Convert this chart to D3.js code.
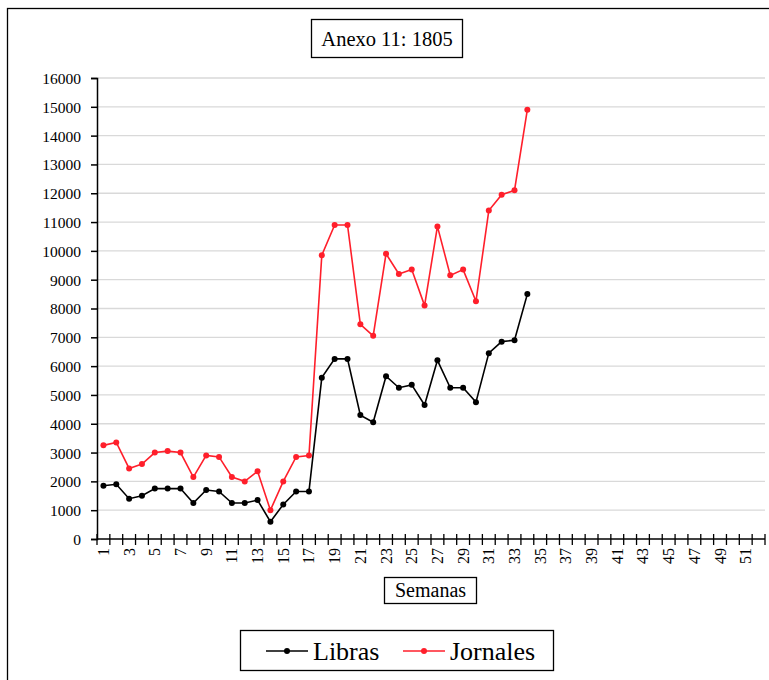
<!DOCTYPE html>
<html>
<head>
<meta charset="utf-8">
<script src="https://cdn.jsdelivr.net/npm/d3@7"></script>
<style>
  body { margin: 0; background: #fff; }
  text { font-family: "Liberation Serif", "Times New Roman", serif; fill: #000; }
</style>
</head>
<body>
<script>
// semanas 1..52, data only for the first 34
var semanas = d3.range(1, 53);
var libras = [1850, 1900, 1400, 1500, 1750, 1750, 1750, 1250, 1700, 1650,
              1250, 1250, 1350, 600, 1200, 1650, 1650, 5600, 6250, 6250,
              4300, 4050, 5650, 5250, 5350, 4650, 6200, 5250, 5250, 4750,
              6450, 6850, 6900, 8500];
var jornales = [3250, 3350, 2450, 2600, 3000, 3050, 3000, 2150, 2900, 2850,
                2150, 2000, 2350, 1000, 2000, 2850, 2900, 9850, 10900, 10900,
                7450, 7050, 9900, 9200, 9350, 8100, 10850, 9150, 9350, 8250,
                11400, 11950, 12100, 14900];
var yTicks = d3.range(0, 16001, 1000);

var w = 769, h = 680;
// plot area edges (window.top is reserved, so use own names)
var plotLeft = 97, plotRight = 765, plotTop = 78, plotBottom = 539;

var svg = d3.select("body").append("svg")
    .attr("width", w)
    .attr("height", h);

// outer frame
svg.append("rect")
    .attr("x", 7.5).attr("y", 8.5)
    .attr("width", 800).attr("height", 700)
    .attr("fill", "none").attr("stroke", "#000").attr("stroke-width", 1.3);

var x = d3.scaleBand().domain(semanas).range([plotLeft, plotRight]);
var y = d3.scaleLinear().domain([0, 16000]).range([plotBottom, plotTop]);

// gridlines
svg.append("g").selectAll("line")
    .data(yTicks.slice(1))
    .enter().append("line")
    .attr("x1", plotLeft).attr("x2", plotRight)
    .attr("y1", function(d) { return y(d); })
    .attr("y2", function(d) { return y(d); })
    .attr("stroke", "#d9d9d9").attr("stroke-width", 1.3);

// y axis
var yAxis = svg.append("g")
    .attr("transform", "translate(" + plotLeft + ",0)")
    .call(d3.axisLeft(y).tickValues(yTicks).tickSize(6).tickPadding(10).tickFormat(d3.format("d")));
yAxis.attr("font-size", 15.5).attr("font-family", "Liberation Serif");
yAxis.select(".domain").attr("stroke", "#000").attr("stroke-width", 1.5);
yAxis.selectAll(".tick line").attr("stroke", "#000").attr("stroke-width", 1.5);
yAxis.selectAll("text").style("font-size", "15.5px").attr("dy", "0.35em");

// x axis: ticks at category boundaries crossing the axis
var bounds = semanas.map(function(d) { return x(d); }).concat([plotRight]);
svg.append("line")
    .attr("x1", plotLeft).attr("x2", plotRight)
    .attr("y1", plotBottom).attr("y2", plotBottom)
    .attr("stroke", "#000").attr("stroke-width", 1.5);
svg.append("g").selectAll("line")
    .data(bounds)
    .enter().append("line")
    .attr("x1", function(d) { return d; }).attr("x2", function(d) { return d; })
    .attr("y1", plotBottom - 5).attr("y2", plotBottom + 6)
    .attr("stroke", "#000").attr("stroke-width", 1.3);

svg.append("g").selectAll("text")
    .data(semanas.filter(function(d) { return d % 2 == 1; }))
    .enter().append("text")
    .attr("transform", function(d) {
        return "translate(" + (x(d) + x.bandwidth() / 2 + 5.5) + "," + (plotBottom + 9) + ") rotate(-90)";
    })
    .attr("text-anchor", "end")
    .style("font-size", "16px")
    .text(function(d) { return d; });

// lines
var line = d3.line()
    .x(function(d, i) { return x(semanas[i]) + x.bandwidth() / 2; })
    .y(function(d) { return y(d); });

function drawSeries(data, color) {
    svg.append("path")
        .datum(data)
        .attr("d", line)
        .attr("fill", "none")
        .attr("stroke", color)
        .attr("stroke-width", 1.6);
    svg.append("g").selectAll("circle")
        .data(data)
        .enter().append("circle")
        .attr("cx", function(d, i) { return x(semanas[i]) + x.bandwidth() / 2; })
        .attr("cy", function(d) { return y(d); })
        .attr("r", 3)
        .attr("fill", color);
}
drawSeries(jornales, "#ff1f2b");
drawSeries(libras, "#000");

// title box
svg.append("rect")
    .attr("x", 311.5).attr("y", 19.5).attr("width", 151).attr("height", 38)
    .attr("fill", "#fff").attr("stroke", "#000").attr("stroke-width", 1.3);
svg.append("text")
    .attr("x", 387).attr("y", 46)
    .attr("text-anchor", "middle")
    .style("font-size", "20.5px")
    .text("Anexo 11: 1805");

// axis title box
svg.append("rect")
    .attr("x", 384.5).attr("y", 577.5).attr("width", 92).attr("height", 26)
    .attr("fill", "#fff").attr("stroke", "#000").attr("stroke-width", 1.3);
svg.append("text")
    .attr("x", 430.5).attr("y", 597)
    .attr("text-anchor", "middle")
    .style("font-size", "20px")
    .text("Semanas");

// legend
var leg = svg.append("g");
leg.append("rect")
    .attr("x", 240.5).attr("y", 630.5).attr("width", 313).attr("height", 40)
    .attr("fill", "#fff").attr("stroke", "#000").attr("stroke-width", 1.3);
var items = [
    { name: "Libras", color: "#000", x: 266 },
    { name: "Jornales", color: "#ff1f2b", x: 403 }
];
items.forEach(function(it) {
    leg.append("line")
        .attr("x1", it.x).attr("x2", it.x + 42)
        .attr("y1", 651).attr("y2", 651)
        .attr("stroke", it.color).attr("stroke-width", 1.6);
    leg.append("circle")
        .attr("cx", it.x + 21).attr("cy", 651).attr("r", 3)
        .attr("fill", it.color);
    leg.append("text")
        .attr("x", it.x + 47).attr("y", 660)
        .style("font-size", "26px")
        .text(it.name);
});
</script>
</body>
</html>
